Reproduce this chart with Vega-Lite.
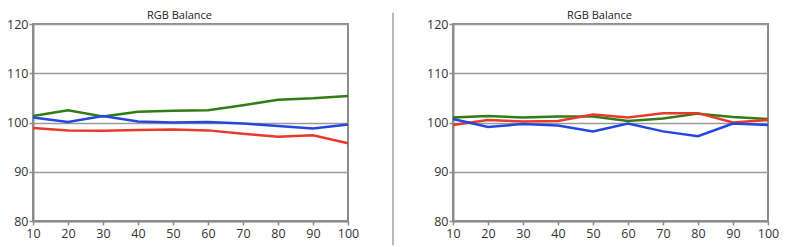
{
  "$schema": "https://vega.github.io/schema/vega-lite/v6.json",
  "background": "white",
  "padding": {"left": 5, "top": 9, "right": 5, "bottom": 0},
  "spacing": 31,
  "datasets": {
    "left": [
      {"x": 10, "v": 101.3, "c": "G"}, {"x": 20, "v": 102.5, "c": "G"}, {"x": 30, "v": 101.2, "c": "G"}, {"x": 40, "v": 102.2, "c": "G"}, {"x": 50, "v": 102.4, "c": "G"}, {"x": 60, "v": 102.5, "c": "G"}, {"x": 70, "v": 103.5, "c": "G"}, {"x": 80, "v": 104.6, "c": "G"}, {"x": 90, "v": 104.9, "c": "G"}, {"x": 100, "v": 105.4, "c": "G"},
      {"x": 10, "v": 101.0, "c": "B"}, {"x": 20, "v": 100.1, "c": "B"}, {"x": 30, "v": 101.3, "c": "B"}, {"x": 40, "v": 100.2, "c": "B"}, {"x": 50, "v": 100.0, "c": "B"}, {"x": 60, "v": 100.1, "c": "B"}, {"x": 70, "v": 99.8, "c": "B"}, {"x": 80, "v": 99.3, "c": "B"}, {"x": 90, "v": 98.8, "c": "B"}, {"x": 100, "v": 99.6, "c": "B"},
      {"x": 10, "v": 98.9, "c": "R"}, {"x": 20, "v": 98.4, "c": "R"}, {"x": 30, "v": 98.3, "c": "R"}, {"x": 40, "v": 98.5, "c": "R"}, {"x": 50, "v": 98.6, "c": "R"}, {"x": 60, "v": 98.4, "c": "R"}, {"x": 70, "v": 97.7, "c": "R"}, {"x": 80, "v": 97.1, "c": "R"}, {"x": 90, "v": 97.4, "c": "R"}, {"x": 100, "v": 95.8, "c": "R"}
    ],
    "right": [
      {"x": 10, "v": 101.0, "c": "G"}, {"x": 20, "v": 101.3, "c": "G"}, {"x": 30, "v": 101.0, "c": "G"}, {"x": 40, "v": 101.2, "c": "G"}, {"x": 50, "v": 101.2, "c": "G"}, {"x": 60, "v": 100.3, "c": "G"}, {"x": 70, "v": 100.8, "c": "G"}, {"x": 80, "v": 101.8, "c": "G"}, {"x": 90, "v": 101.1, "c": "G"}, {"x": 100, "v": 100.7, "c": "G"},
      {"x": 10, "v": 99.5, "c": "R"}, {"x": 20, "v": 100.5, "c": "R"}, {"x": 30, "v": 100.2, "c": "R"}, {"x": 40, "v": 100.3, "c": "R"}, {"x": 50, "v": 101.6, "c": "R"}, {"x": 60, "v": 101.0, "c": "R"}, {"x": 70, "v": 101.9, "c": "R"}, {"x": 80, "v": 101.9, "c": "R"}, {"x": 90, "v": 100.0, "c": "R"}, {"x": 100, "v": 100.5, "c": "R"},
      {"x": 10, "v": 100.7, "c": "B"}, {"x": 20, "v": 99.1, "c": "B"}, {"x": 30, "v": 99.7, "c": "B"}, {"x": 40, "v": 99.4, "c": "B"}, {"x": 50, "v": 98.2, "c": "B"}, {"x": 60, "v": 99.8, "c": "B"}, {"x": 70, "v": 98.2, "c": "B"}, {"x": 80, "v": 97.2, "c": "B"}, {"x": 90, "v": 99.8, "c": "B"}, {"x": 100, "v": 99.5, "c": "B"}
    ],
    "divider": [
      {"x": 1, "y1": 122.3, "y2": 75.1}
    ]
  },
  "hconcat": [
    {
      "width": 315,
      "height": 197,
      "title": {"text": "RGB Balance", "frame": "group", "dx": -11},
      "data": {"name": "left"},
      "mark": {"type": "line", "strokeWidth": 2.5},
      "encoding": {
        "x": {"field": "x", "type": "quantitative", "scale": {"domain": [10, 100], "nice": false, "zero": false},
              "axis": {"values": [10, 20, 30, 40, 50, 60, 70, 80, 90, 100], "title": null}},
        "y": {"field": "v", "type": "quantitative", "scale": {"domain": [80, 120], "nice": false, "zero": false},
              "axis": {"values": [80, 90, 100, 110, 120], "title": null}},
        "color": {"field": "c", "type": "nominal", "legend": null,
                  "scale": {"domain": ["R", "G", "B"], "range": ["#e8392b", "#2f7d14", "#2447e0"]}}
      }
    },
    {
      "width": 2,
      "height": 197,
      "view": {"stroke": null},
      "data": {"name": "divider"},
      "mark": {"type": "rule", "color": "#b8b8b8", "strokeWidth": 2},
      "encoding": {
        "x": {"field": "x", "type": "quantitative", "scale": {"domain": [0, 1], "nice": false, "zero": false}, "axis": null},
        "y": {"field": "y1", "type": "quantitative", "scale": {"domain": [80, 120], "nice": false, "zero": false}, "axis": null},
        "y2": {"field": "y2"}
      }
    },
    {
      "width": 315,
      "height": 197,
      "title": {"text": "RGB Balance", "frame": "group", "dx": -11},
      "data": {"name": "right"},
      "mark": {"type": "line", "strokeWidth": 2.5},
      "encoding": {
        "x": {"field": "x", "type": "quantitative", "scale": {"domain": [10, 100], "nice": false, "zero": false},
              "axis": {"values": [10, 20, 30, 40, 50, 60, 70, 80, 90, 100], "title": null}},
        "y": {"field": "v", "type": "quantitative", "scale": {"domain": [80, 120], "nice": false, "zero": false},
              "axis": {"values": [80, 90, 100, 110, 120], "title": null}},
        "color": {"field": "c", "type": "nominal", "legend": null,
                  "scale": {"domain": ["R", "G", "B"], "range": ["#e8392b", "#2f7d14", "#2447e0"]}}
      }
    }
  ],
  "resolve": {"scale": {"color": "independent", "x": "independent", "y": "independent"}},
  "config": {
    "font": "Open Sans",
    "view": {"stroke": "#8c8c8c", "strokeWidth": 2},
    "title": {"fontSize": 11, "fontWeight": "normal", "color": "#222", "offset": -3, "anchor": "middle"},
    "axis": {
      "labelFont": "Open Sans",
      "labelFontSize": 12.5,
      "labelColor": "#333",
      "domainColor": "#8c8c8c",
      "domainWidth": 2,
      "tickColor": "#8c8c8c",
      "tickSize": 4,
      "tickWidth": 1.5,
      "labelPadding": 1,
      "labelOverlap": false,
      "grid": false
    },
    "axisY": {"grid": true, "gridColor": "#9a9a9a", "gridWidth": 1.5, "labelPadding": 1},
    "axisX": {"labelFlush": false, "labelPadding": 2}
  }
}
